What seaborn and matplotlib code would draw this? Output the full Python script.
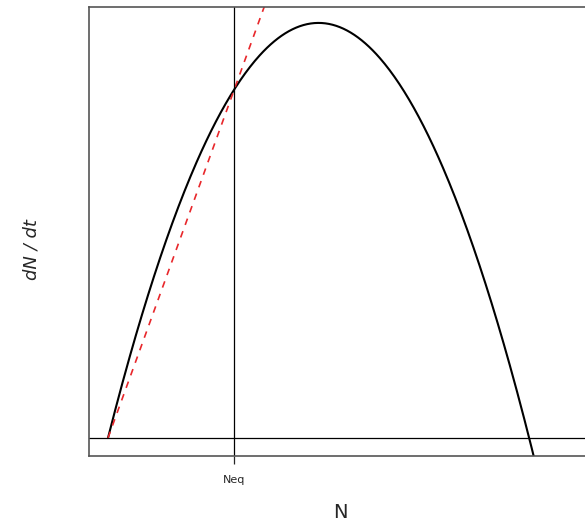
import numpy as np
import pandas as pd
import matplotlib
matplotlib.use("Agg")
import matplotlib.pyplot as plt
import seaborn as sns

# logistic growth model
r = 0.5          # intrinsic growth rate
K = 100          # carrying capacity
Neq = 30         # equilibrium under harvest
E = r * (1 - Neq / K)   # harvest rate (slope of the red line)

N = np.linspace(0, 115, 400)
growth = pd.DataFrame({"N": N, "dNdt": r * N * (1 - N / K)})
harvest = pd.DataFrame({"N": [0, 40], "dNdt": [0, E * 40]})

sns.set_style("white")
fig = plt.figure(figsize=(5.85, 5.25), dpi=100)
ax = fig.add_axes([0.1521, 0.1314, 0.877, 0.8553])

sns.lineplot(data=growth, x="N", y="dNdt", ax=ax, color="black", linewidth=1.5)
sns.lineplot(data=harvest, x="N", y="dNdt", ax=ax, color="#e8272b",
             linewidth=1.2, linestyle=(0, (4, 4)))
ax.axhline(0, color="black", linewidth=0.9)
ax.axvline(Neq, color="black", linewidth=0.9)

ax.set_xlim(-4.51, 117.3)
ax.set_ylim(-0.542, 12.98)
ax.set_xticks([Neq])
ax.set_xticklabels(["Neq"], fontsize=8)
ax.set_yticks([])
ax.tick_params(axis="x", length=6, width=0.9, pad=8, bottom=True)
for s in ax.spines.values():
    s.set_color("#555555")
    s.set_linewidth(1.2)

ax.set_xlabel("N", fontsize=14)
ax.xaxis.set_label_coords(0.49, -0.105)
ax.set_ylabel("dN / dt", fontsize=13, style="italic")
ax.yaxis.set_label_coords(-0.095, 0.46)

fig.savefig("out.png", dpi=100)
